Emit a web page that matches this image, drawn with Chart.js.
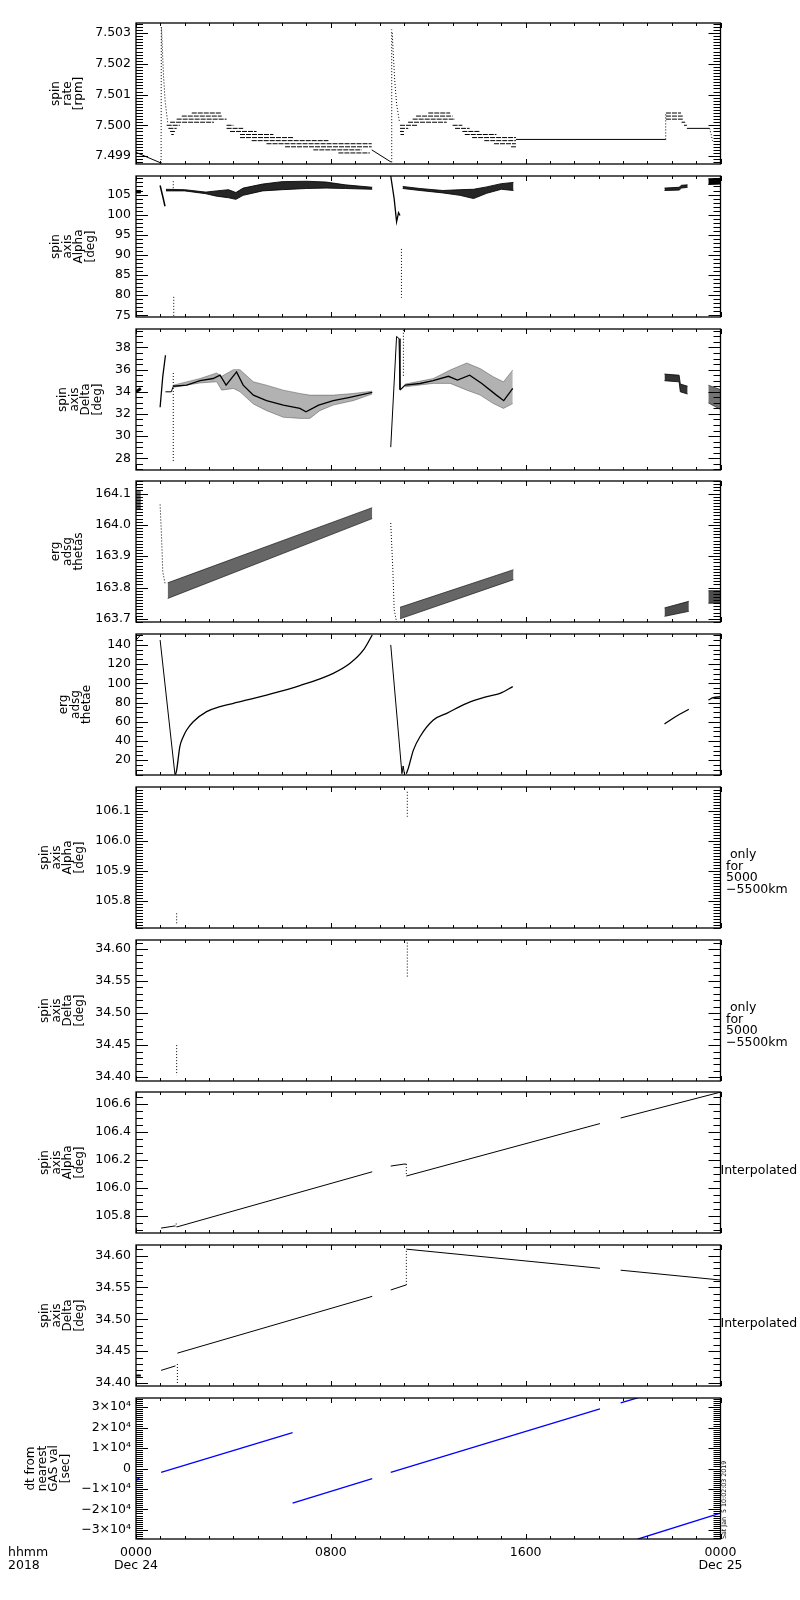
<!DOCTYPE html>
<html>
<head>
<meta charset="utf-8">
<script src="https://cdn.jsdelivr.net/npm/chart.js@4.4.1/dist/chart.umd.min.js"></script>
<style>
body{margin:0;background:#fff;width:800px;height:1600px;position:relative;overflow:hidden}
canvas{position:absolute;left:0}
</style>
</head>
<body>
<script>
'use strict';
// x is hours since 2018-12-24 00:00

// panel 1: spin rate [rpm]
const rateTicks=[7.499,7.500,7.501,7.502,7.503];
const rateTickLabels=['7.499','7.500','7.501','7.502','7.503'];
const rateDrift=[[0,7.49912],[1.03,7.49877]];
const rateSpike1=[[1.03,7.49877],[1.04,7.50322]];
const rateRelax1=[[1.05,7.50315],[1.08,7.50255],[1.13,7.50160],[1.2,7.50075],[1.3,7.50010]];
const rateDrift2=[[9.68,7.49920],[10.48,7.49880]];
const rateSpike2=[[10.5,7.49880],[10.5,7.50312]];
const rateRelax2=[[10.52,7.50300],[10.56,7.50240],[10.62,7.50150],[10.7,7.50070],[10.82,7.50010]];
const rateFlat=[[15.6,7.49954],[21.75,7.49954]];
const rateJump=[[21.75,7.49954],[21.75,7.50040]];
const rateFlat2=[[22.62,7.49990],[23.55,7.49990]];
const rateTail=[[23.55,7.49990],[23.62,7.49970],[23.67,7.49950]];
// [start hour, end hour, quantised level]
const rateSteps=[
  [2.29,3.52,7.5004],[1.88,3.52,7.5003],[1.67,3.72,7.5002],[1.4,3.2,7.5001],[1.26,1.8,7.5000],[3.72,4.0,7.5000],
  [1.33,1.67,7.4999],[3.72,4.4,7.4999],[1.4,1.6,7.4998],[3.86,4.95,7.4998],[1.45,1.55,7.4997],[4.27,5.64,7.4997],
  [4.27,6.46,7.4996],[4.75,7.9,7.4995],[5.36,9.68,7.4994],[6.12,9.68,7.4993],[7.28,9.27,7.4992],[8.31,9.6,7.4991],
  [12.0,12.9,7.5004],[11.5,13.0,7.5003],[11.36,13.1,7.5002],[11.17,12.76,7.5001],[10.84,11.58,7.5000],[13.0,13.4,7.5000],
  [10.84,11.18,7.4999],[13.1,13.7,7.4999],[10.84,11.0,7.4998],[13.4,14.1,7.4998],[10.86,11.0,7.4997],[13.5,14.8,7.4997],
  [13.8,15.6,7.4996],[14.3,15.6,7.4995],[14.7,15.6,7.4994],[15.4,15.6,7.4993],
  [21.76,22.38,7.5004],[21.76,22.45,7.5003],[21.76,22.45,7.5002],[22.4,22.55,7.5001],[22.5,22.62,7.5000]
];

// panel 2: spin axis alpha [deg]  rows: [hour, low, high]
const alphaTicks=[75,80,85,90,95,100,105];
const alphaTickLabels=['75','80','85','90','95','100','105'];
const alphaEdge=[[0,105.4,106.0],[0.2,105.4,106.0]];
const alphaDrop1=[[0.99,107.25],[1.1,104.5],[1.19,102.1]];
const alphaDotsA=[[1.53,108.3],[1.53,106.25]];
const alphaDotsB=[[1.55,79.6],[1.55,74.6]];
const alphaBand1=[[1.23,105.9,106.3],[2.0,105.9,106.2],[2.87,105.2,105.6],[3.3,104.6,105.9],[3.8,104.2,106.2],
  [4.1,103.8,105.5],[4.4,104.8,106.6],[5.2,105.9,107.6],[6.0,106.2,108.2],[7.0,106.5,108.3],[7.8,106.6,108.1],
  [8.6,106.5,107.4],[9.7,106.3,106.8]];
const alphaDrop2=[[10.46,109.6],[10.6,104.0],[10.7,98.2],[10.78,100.5],[10.84,99.8]];
const alphaDotsC=[[10.9,91.5],[10.9,79.4]];
const alphaBand2=[[10.95,106.5,107.0],[11.66,106.0,106.5],[12.6,105.4,106.0],[13.3,104.8,106.2],[13.86,104.0,106.3],
  [14.4,105.3,106.9],[15.0,106.3,107.7],[15.5,106.0,108.0]];
const alphaBand3=[[21.7,106.0,106.6],[22.3,106.1,106.8],[22.4,106.6,107.3],[22.65,106.8,107.4]];
const alphaBand4=[[23.5,107.5,108.9],[24,107.6,109.0]];

// panel 3: spin axis delta [deg]
const deltaTicks=[28,30,32,34,36,38];
const deltaTickLabels=['28','30','32','34','36','38'];
const deltaEdge=[[0,34.0],[0.2,34.3]];
const deltaRise1=[[0.99,32.6],[1.1,35.4],[1.21,37.3]];
const deltaHook1=[[1.21,34.0],[1.45,34.0],[1.53,34.5]];
const deltaDots1=[[1.53,35.7],[1.53,27.6]];
const deltaBand1=[[1.53,34.4,34.6],[2.63,34.8,35.2],[3.31,34.9,35.7],[3.52,34.15,35.4],[4.0,34.3,36.0],[4.27,34.0,36.0],
  [4.82,32.9,34.9],[5.36,32.3,34.6],[6.05,31.7,34.15],[6.73,31.6,33.85],[7.14,31.6,33.7],[7.55,32.3,33.7],
  [8.1,32.8,33.7],[8.92,33.2,33.85],[9.7,33.8,34.06]];
const deltaCore1=[[1.53,34.5],[2.08,34.6],[2.63,35.0],[3.17,35.2],[3.45,35.5],[3.7,34.6],[4.13,35.8],[4.4,34.6],
  [4.82,33.7],[5.36,33.2],[6.05,32.8],[6.73,32.5],[6.98,32.2],[7.5,32.8],[8.1,33.2],[8.78,33.5],[9.7,33.95]];
const deltaRise2=[[10.46,29.0],[10.7,39.0],[10.8,38.8],[10.84,34.2]];
const deltaDots2=[[10.98,39.6],[10.98,35.4]];
const deltaBand2=[[11.05,34.45,34.7],[12.21,34.76,35.2],[12.9,34.76,35.97],[13.58,34.15,36.6],[14.13,33.7,36.1],
  [14.67,32.94,35.36],[15.09,32.5,34.9],[15.47,32.94,35.97]];
const deltaCore2=[[10.84,34.15],[11.05,34.6],[11.66,34.75],[12.2,35.0],[12.83,35.4],[13.2,35.06],[13.7,35.5],
  [14.2,34.75],[14.8,33.7],[15.1,33.2],[15.47,34.3]];
const deltaBand3=[[21.7,35.0,35.6],[22.3,34.9,35.5],[22.35,34.0,34.7],[22.65,33.8,34.5]];
const deltaBand4=[[23.5,33.0,34.6],[24,32.4,34.2]];

// panel 4: erg adsg thetas
const thetasTicks=[163.7,163.8,163.9,164.0,164.1];
const thetasTickLabels=['163.7','163.8','163.9','164.0','164.1'];
const thetasEdge=[[0,164.05,164.11],[0.2,164.05,164.11]];
const thetasDrop1=[[0.99,164.065],[1.05,163.96],[1.1,163.85],[1.2,163.81]];
const thetasBand1=[[1.3,163.765,163.815],[9.7,164.02,164.055]];
const thetasDrop2=[[10.46,164.006],[10.55,163.85],[10.6,163.73],[10.7,163.69]];
const thetasBand2=[[10.84,163.70,163.737],[15.5,163.825,163.857]];
const thetasBand3=[[21.7,163.708,163.735],[22.7,163.724,163.756]];
const thetasBand4=[[23.5,163.75,163.79],[24,163.75,163.79]];

// panel 5: erg adsg thetae
const thetaeTicks=[20,40,60,80,100,120,140];
const thetaeTickLabels=['20','40','60','80','100','120','140'];
const thetaeEdge=[[0,145],[0.22,151]];
const thetaeDrop1=[[0.99,145],[1.6,5]];
const thetaeRise1=[[1.62,5],[1.67,9.7],[1.80,34],[1.94,44.4],[2.08,51.4],[2.35,60],[2.90,70.5],[3.45,75.7],[4.0,79.2],
  [5.36,87.8],[6.73,97.6],[8.1,110.4],[8.79,120.8],[9.34,134.7],[9.7,150.3]];
const thetaeDrop2=[[10.46,140],[10.92,6],[10.97,14],[11.02,6]];
const thetaeRise2=[[11.1,6],[11.18,11.5],[11.39,30.5],[11.66,44.4],[12.21,61.8],[12.76,68.75],[13.58,79.2],
  [14.41,86.1],[14.95,89.6],[15.47,96.5]];
const thetaeSeg3=[[21.7,57.6],[22.2,66],[22.7,73]];
const thetaeSeg4=[[23.5,82.6],[23.7,85],[24,86]];

// panel 6: spin axis alpha, 5000-5500 km only
const alphaOnlyTicks=[105.8,105.9,106.0,106.1];
const alphaOnlyTickLabels=['105.8','105.9','106.0','106.1'];
const alphaOnlyA=[[1.67,105.758],[1.67,105.719]];
const alphaOnlyB=[[11.14,106.163],[11.14,106.08]];

// panel 7: spin axis delta, 5000-5500 km only
const deltaOnlyTicks=[34.40,34.45,34.50,34.55,34.60];
const deltaOnlyTickLabels=['34.40','34.45','34.50','34.55','34.60'];
const deltaOnlyA=[[1.67,34.45],[1.67,34.403]];
const deltaOnlyB=[[11.14,34.61],[11.14,34.555]];

// panel 8: spin axis alpha, interpolated
const alphaIntTicks=[105.8,106.0,106.2,106.4,106.6];
const alphaIntTickLabels=['105.8','106.0','106.2','106.4','106.6'];
const alphaIntA=[[1.03,105.712],[1.62,105.728]];
const alphaIntTick=[[1.65,105.745],[1.65,105.72]];
const alphaIntB=[[1.67,105.72],[9.7,106.115]];
const alphaIntC=[[10.46,106.156],[11.0,106.17],[11.1,106.17]];
const alphaIntStep=[[11.1,106.17],[11.1,106.09]];
const alphaIntD=[[11.1,106.085],[19.05,106.46]];
const alphaIntE=[[19.9,106.50],[24,106.685]];

// panel 9: spin axis delta, interpolated
const deltaIntTicks=[34.40,34.45,34.50,34.55,34.60];
const deltaIntTickLabels=['34.40','34.45','34.50','34.55','34.60'];
const deltaIntEdge=[[0,34.412],[0.2,34.412]];
const deltaIntA=[[1.03,34.42],[1.62,34.427]];
const deltaIntTick=[[1.7,34.43],[1.7,34.40]];
const deltaIntB=[[1.7,34.447],[9.7,34.536]];
const deltaIntC=[[10.46,34.546],[11.1,34.554]];
const deltaIntStep=[[11.1,34.554],[11.1,34.61]];
const deltaIntD=[[11.1,34.61],[19.05,34.58]];
const deltaIntE=[[19.9,34.577],[24,34.5616]];

// panel 10: dt from nearest GAS val [sec]
const dtTicks=[-30000,-20000,-10000,0,10000,20000,30000];
const dtTickLabels=['\u22123\u00d710\u2074','\u22122\u00d710\u2074','\u22121\u00d710\u2074','0','1\u00d710\u2074','2\u00d710\u2074','3\u00d710\u2074'];
const dtEdge=[[0,-5500],[0.15,-5000]];
const dtSeg1=[[1.03,-1900],[6.43,17500]];
const dtSeg2=[[6.43,-16900],[9.7,-4900]];
const dtSeg3=[[10.46,-1900],[19.05,29200]];
const dtSeg4=[[19.9,32100],[20.6,34600]];
const dtSeg5=[[20.59,-34600],[24,-21800]];

const hourTicks=[0,8,16,24];
const hourTickLabels=[['0000','Dec 24'],'0800','1600',['0000','Dec 25']];

const FONT='DejaVu Sans';
const BLUE='#0000ff';

function pts(a){return a.map(p=>({x:p[0],y:p[1]}));}
function line(a,o){
  return Object.assign({data:pts(a),showLine:true,pointRadius:0,borderColor:'#000',borderWidth:1,fill:false},o||{});
}
function dots(a,o){return line(a,Object.assign({borderDash:[1,2]},o||{}));}
function curve(a){return line(a,{cubicInterpolationMode:'monotone',borderWidth:1.3});}
function steps(rows){
  const d=[];
  rows.forEach(r=>{d.push({x:r[0],y:r[2]},{x:r[1],y:r[2]},{x:r[1],y:null});});
  return {data:d,showLine:true,pointRadius:0,borderColor:'#000',borderWidth:1,borderDash:[5,1],spanGaps:false,fill:false};
}
function band(rows,color){
  return [
    {data:rows.map(r=>({x:r[0],y:r[1]})),showLine:true,pointRadius:0,borderColor:color,borderWidth:1,fill:false},
    {data:rows.map(r=>({x:r[0],y:r[2]})),showLine:true,pointRadius:0,borderColor:color,borderWidth:1,fill:'-1',backgroundColor:color}
  ];
}

const onlyNote=[
  {t:' only',x:726,dy:68},{t:'for',x:726,dy:79.5},{t:'5000',x:726,dy:91},{t:'\u22125500km',x:726,dy:102.5}
];
const interpNote=[{t:'Interpolated',x:720.5,dy:79}];

const panels=[
  {title:['spin','rate','[rpm]'],tx:56,min:7.49874,max:7.50333,ticks:rateTicks,labels:rateTickLabels,minor:0.0001,
   sets:[line(rateDrift),dots(rateSpike1),dots(rateRelax1),steps(rateSteps),line(rateDrift2),dots(rateSpike2),
     dots(rateRelax2),line(rateFlat),dots(rateJump),line(rateFlat2),dots(rateTail)]},
  {title:['spin','axis','Alpha','[deg]'],tx:56,min:74.6,max:109.6,ticks:alphaTicks,labels:alphaTickLabels,minor:1,
   sets:[...band(alphaEdge,'#000'),line(alphaDrop1,{borderWidth:1.5}),dots(alphaDotsA),dots(alphaDotsB),
     ...band(alphaBand1,'rgba(0,0,0,0.85)'),line(alphaDrop2,{borderWidth:1.3}),dots(alphaDotsC),
     ...band(alphaBand2,'rgba(0,0,0,0.85)'),...band(alphaBand3,'rgba(0,0,0,0.85)'),...band(alphaBand4,'#000')]},
  {title:['spin','axis','Delta','[deg]'],tx:63,min:26.94,max:39.67,ticks:deltaTicks,labels:deltaTickLabels,minor:0.5,
   sets:[line(deltaEdge,{borderWidth:3}),line(deltaRise1,{borderWidth:1.3}),line(deltaHook1),dots(deltaDots1),
     ...band(deltaBand1,'rgba(0,0,0,0.3)'),line(deltaCore1,{borderWidth:1.3}),line(deltaRise2),dots(deltaDots2),
     ...band(deltaBand2,'rgba(0,0,0,0.3)'),line(deltaCore2,{borderWidth:1.3}),
     ...band(deltaBand3,'rgba(0,0,0,0.8)'),...band(deltaBand4,'rgba(0,0,0,0.55)')]},
  {title:['erg','adsg','thetas'],tx:56,min:163.69,max:164.14,ticks:thetasTicks,labels:thetasTickLabels,minor:0.01,
   sets:[...band(thetasEdge,'rgba(0,0,0,0.6)'),dots(thetasDrop1),...band(thetasBand1,'rgba(0,0,0,0.6)'),dots(thetasDrop2),
     ...band(thetasBand2,'rgba(0,0,0,0.6)'),...band(thetasBand3,'rgba(0,0,0,0.7)'),...band(thetasBand4,'rgba(0,0,0,0.7)')]},
  {title:['erg','adsg','thetae'],tx:64,min:4.6,max:151.3,ticks:thetaeTicks,labels:thetaeTickLabels,minor:5,
   sets:[line(thetaeEdge),line(thetaeDrop1),curve(thetaeRise1),line(thetaeDrop2),curve(thetaeRise2),
     curve(thetaeSeg3),curve(thetaeSeg4)]},
  {title:['spin','axis','Alpha','[deg]'],tx:45,min:105.709,max:106.179,ticks:alphaOnlyTicks,labels:alphaOnlyTickLabels,minor:0.01,
   notes:onlyNote,sets:[dots(alphaOnlyA),dots(alphaOnlyB)]},
  {title:['spin','axis','Delta','[deg]'],tx:45,min:34.394,max:34.614,ticks:deltaOnlyTicks,labels:deltaOnlyTickLabels,minor:0.01,
   notes:onlyNote,sets:[dots(deltaOnlyA),dots(deltaOnlyB)]},
  {title:['spin','axis','Alpha','[deg]'],tx:45,min:105.677,max:106.686,ticks:alphaIntTicks,labels:alphaIntTickLabels,minor:0.05,
   notes:interpNote,sets:[line(alphaIntA),dots(alphaIntTick),line(alphaIntB),line(alphaIntC),dots(alphaIntStep),
     line(alphaIntD),line(alphaIntE)]},
  {title:['spin','axis','Delta','[deg]'],tx:45,min:34.3955,max:34.6165,ticks:deltaIntTicks,labels:deltaIntTickLabels,minor:0.01,
   notes:interpNote,sets:[line(deltaIntEdge,{borderWidth:2}),line(deltaIntA),dots(deltaIntTick),line(deltaIntB),
     line(deltaIntC),dots(deltaIntStep),line(deltaIntD),line(deltaIntE)]},
  {title:['dt from','nearest','GAS val','[sec]'],tx:31,min:-34500,max:34500,ticks:dtTicks,labels:dtTickLabels,minor:1000,
   notes:[{t:'hhmm',x:8,dy:155},{t:'2018',x:8,dy:167.5}],
   stamp:'Sat Jan  5 10:02:03 2019',
   sets:[line(dtEdge,{borderColor:BLUE,borderWidth:2}),line(dtSeg1,{borderColor:BLUE,borderWidth:1.3}),
     line(dtSeg2,{borderColor:BLUE,borderWidth:1.3}),line(dtSeg3,{borderColor:BLUE,borderWidth:1.3}),
     line(dtSeg4,{borderColor:BLUE,borderWidth:1.3}),line(dtSeg5,{borderColor:BLUE,borderWidth:1.3})]}
];

// frame, inward ticks and side texts
const framePlugin={
  id:'frame',
  afterDatasetsDraw(chart,args,opts){
    const {ctx,chartArea:a,scales:{x,y}}=chart;
    ctx.save();
    ctx.strokeStyle='#000';
    ctx.lineWidth=1;
    ctx.beginPath();
    const n0=Math.ceil(y.min/opts.minor-1e-6),n1=Math.floor(y.max/opts.minor+1e-6);
    for(let n=n0;n<=n1;n++){
      const py=Math.round(y.getPixelForValue(n*opts.minor))+0.5;
      ctx.moveTo(a.left,py);ctx.lineTo(a.left+7,py);
      ctx.moveTo(a.right,py);ctx.lineTo(a.right-7,py);
    }
    y.ticks.forEach(t=>{
      const py=Math.round(y.getPixelForValue(t.value))+0.5;
      ctx.moveTo(a.left,py);ctx.lineTo(a.left+12,py);
      ctx.moveTo(a.right,py);ctx.lineTo(a.right-12,py);
    });
    for(let h=0;h<=24;h++){
      const px=Math.round(x.getPixelForValue(h))+0.5;
      const len=h%8===0?5:3;
      ctx.moveTo(px,a.top);ctx.lineTo(px,a.top+len);
      ctx.moveTo(px,a.bottom);ctx.lineTo(px,a.bottom-len);
    }
    ctx.stroke();
    ctx.lineWidth=1.3;
    ctx.strokeRect(a.left,a.top,a.right-a.left,a.bottom-a.top);
    ctx.fillStyle='#000';
    ctx.textBaseline='middle';
    ctx.textAlign='left';
    ctx.font='12.5px "'+FONT+'"';
    (opts.notes||[]).forEach(n=>ctx.fillText(n.t,n.x,a.top+n.dy));
    if(opts.stamp){
      ctx.translate(a.right+4,a.bottom);
      ctx.rotate(-Math.PI/2);
      ctx.font='6.3px "'+FONT+'"';
      ctx.fillText(opts.stamp,0,0);
    }
    ctx.restore();
  }
};

Chart.defaults.font.family=FONT;
Chart.defaults.color='#000';

panels.forEach((p,i)=>{
  const last=i===panels.length-1;
  const top=Math.round(23+i*152.75);
  const padT=6,padB=6,xH=last?44:0;
  const cv=document.createElement('canvas');
  cv.width=800;
  cv.height=padT+141+padB+xH;
  cv.style.top=(top-padT)+'px';
  document.body.appendChild(cv);
  new Chart(cv,{
    type:'scatter',
    data:{datasets:p.sets},
    options:{
      responsive:false,
      animation:false,
      events:[],
      layout:{padding:{left:0,right:79.5,top:padT,bottom:padB}},
      plugins:{legend:{display:false},tooltip:{enabled:false},
        frame:{minor:p.minor,notes:p.notes,stamp:p.stamp}},
      scales:{
        x:{type:'linear',min:0,max:24,display:last,
          afterBuildTicks:s=>{s.ticks=hourTicks.map(v=>({value:v}));},
          afterFit:s=>{s.height=xH;s.paddingLeft=0;s.paddingRight=0;},
          grid:{display:false,drawTicks:false},border:{display:false},
          ticks:{autoSkip:false,maxRotation:0,padding:7.5,color:'#000',
            font:{family:FONT,size:12.5,lineHeight:1.0},
            callback:(v,idx)=>hourTickLabels[idx]}},
        y:{type:'linear',min:p.min,max:p.max,
          afterBuildTicks:s=>{s.ticks=p.ticks.map(v=>({value:v}));},
          afterFit:s=>{s.width=136;s.paddingTop=0;s.paddingBottom=0;},
          grid:{display:false,drawTicks:false},border:{display:false},
          ticks:{padding:5,color:'#000',font:{family:FONT,size:12.5},callback:(v,idx)=>p.labels[idx]},
          title:{display:true,text:p.title,color:'#000',
            font:{family:FONT,size:12,lineHeight:0.97},
            padding:{top:p.tx-5.8,bottom:0}}}
      }
    },
    plugins:[framePlugin]
  });
});
</script>
</body>
</html>
